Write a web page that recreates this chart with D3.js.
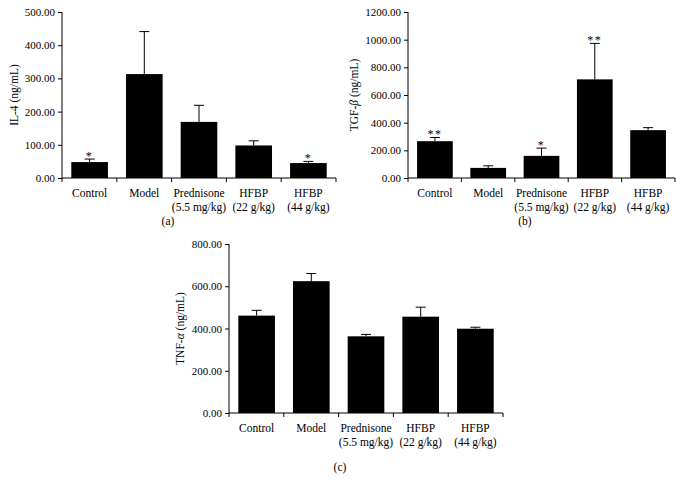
<!DOCTYPE html>
<html>
<head>
<meta charset="utf-8">
<script src="https://cdn.jsdelivr.net/npm/d3@7"></script>
<style>
  body { margin: 0; background: #fff; }
  svg { display: block; }
  text { font-family: "Liberation Serif", "Times New Roman", serif; fill: #000; }
</style>
</head>
<body>
<svg id="chart" width="680" height="482"></svg>
<script>
// groups, same for all three panels
var groups = [
  ['Control'],
  ['Model'],
  ['Prednisone', '(5.5 mg/kg)'],
  ['HFBP', '(22 g/kg)'],
  ['HFBP', '(44 g/kg)']
]

// (a) IL-4
var il4Means = [48, 313, 169, 98, 45]
var il4Errors = [57, 441, 219, 112, 50]
var il4Stars = ['*', '', '', '', '*']
var il4Ticks = [0, 100, 200, 300, 400, 500]

// (b) TGF-beta
var tgfMeans = [266, 73, 160, 713, 346]
var tgfErrors = [293, 88, 216, 973, 364]
var tgfStars = ['**', '', '*', '**', '']
var tgfTicks = [0, 200, 400, 600, 800, 1000, 1200]

// (c) TNF-alpha
var tnfMeans = [461, 624, 363, 456, 399]
var tnfErrors = [486, 660, 372, 501, 406]
var tnfStars = ['', '', '', '', '']
var tnfTicks = [0, 200, 400, 600, 800]

var svg = d3.select('#chart')

drawPanel({left: 62, right: 336, top: 12, bottom: 178, means: il4Means, errors: il4Errors,
  stars: il4Stars, ticks: il4Ticks, label: 'IL-4 (ng/mL)', labelX: 14, tag: '(a)', tagX: 168, tagY: 225})

drawPanel({left: 408, right: 675, top: 12, bottom: 178, means: tgfMeans, errors: tgfErrors,
  stars: tgfStars, ticks: tgfTicks, label: ['TGF-', 'β', ' (ng/mL)'], labelX: 354, tag: '(b)', tagX: 525, tagY: 225})

drawPanel({left: 229, right: 503, top: 244, bottom: 413, means: tnfMeans, errors: tnfErrors,
  stars: tnfStars, ticks: tnfTicks, label: ['TNF-', 'α', ' (ng/mL)'], labelX: 180, tag: '(c)', tagX: 340, tagY: 471})

function drawPanel(p) {
  var x = d3.scaleBand()
      .domain(d3.range(groups.length))
      .range([p.left, p.right])
      .paddingInner(0.33)
      .paddingOuter(0.17)

  var y = d3.scaleLinear()
      .domain([0, d3.max(p.ticks)])
      .range([p.bottom, p.top])

  var g = svg.append('g')

  // bars
  g.selectAll('rect.bar')
      .data(p.means)
    .enter().append('rect')
      .attr('class', 'bar')
      .attr('x', function(d, i) { return x(i) })
      .attr('width', x.bandwidth())
      .attr('y', function(d) { return y(d) })
      .attr('height', function(d) { return y(0) - y(d) })
      .attr('fill', '#000')

  // error bars, upper only
  var err = g.selectAll('g.err')
      .data(p.errors)
    .enter().append('g')
      .attr('class', 'err')
      .attr('stroke', '#000')
      .attr('stroke-width', 1)

  err.append('line')
      .attr('x1', function(d, i) { return x(i) + x.bandwidth() / 2 })
      .attr('x2', function(d, i) { return x(i) + x.bandwidth() / 2 })
      .attr('y1', function(d, i) { return y(p.means[i]) })
      .attr('y2', function(d) { return y(d) })

  err.append('line')
      .attr('x1', function(d, i) { return x(i) + x.bandwidth() / 2 - 5 })
      .attr('x2', function(d, i) { return x(i) + x.bandwidth() / 2 + 5 })
      .attr('y1', function(d) { return y(d) })
      .attr('y2', function(d) { return y(d) })

  // significance stars
  g.selectAll('text.star')
      .data(p.stars)
    .enter().append('text')
      .attr('class', 'star')
      .attr('x', function(d, i) { return x(i) + x.bandwidth() / 2 })
      .attr('y', function(d, i) { return y(p.errors[i]) + 0.5 })
      .attr('text-anchor', 'middle')
      .style('font-size', '12px')
      .style('letter-spacing', '1.5px')
      .text(function(d) { return d })

  // y axis
  var yAxis = d3.axisLeft(y)
      .tickValues(p.ticks)
      .tickSize(4)
      .tickFormat(d3.format('.2f'))

  var ya = g.append('g')
      .attr('transform', 'translate(' + p.left + ',0)')
      .call(yAxis)
  ya.select('.domain').attr('d', 'M0,' + p.top + 'V' + p.bottom)
  ya.selectAll('text').style('font-size', '11px').attr('x', -7)

  // x axis: ticks at group boundaries
  var bounds = d3.range(groups.length + 1).map(function(i) {
    return p.left + i * (p.right - p.left) / groups.length
  })

  g.append('line')
      .attr('x1', p.left).attr('x2', p.right)
      .attr('y1', p.bottom).attr('y2', p.bottom)
      .attr('stroke', '#000')

  g.selectAll('line.xt')
      .data(bounds)
    .enter().append('line')
      .attr('class', 'xt')
      .attr('x1', function(d) { return d }).attr('x2', function(d) { return d })
      .attr('y1', p.bottom).attr('y2', p.bottom + 4)
      .attr('stroke', '#000')

  var cat = g.selectAll('text.cat')
      .data(groups)
    .enter().append('text')
      .attr('class', 'cat')
      .attr('text-anchor', 'middle')
      .attr('y', p.bottom + 19)
      .style('font-size', '11.5px')

  cat.selectAll('tspan')
      .data(function(d, i) { return d.map(function(t) { return {t: t, i: i} }) })
    .enter().append('tspan')
      .attr('x', function(d) { return x(d.i) + x.bandwidth() / 2 })
      .attr('dy', function(d, j) { return j ? 14 : 0 })
      .text(function(d) { return d.t })

  // y label
  var cy = (p.top + p.bottom) / 2
  var lab = g.append('text')
      .attr('transform', 'translate(' + p.labelX + ',' + cy + ') rotate(-90)')
      .attr('text-anchor', 'middle')
      .attr('dy', '0.35em')
      .style('font-size', '11.5px')

  var parts = typeof p.label === 'string' ? [p.label] : p.label
  lab.selectAll('tspan')
      .data(parts)
    .enter().append('tspan')
      .style('font-style', function(d, i) { return i === 1 ? 'italic' : 'normal' })
      .text(function(d) { return d })

  // panel tag
  g.append('text')
      .attr('x', p.tagX)
      .attr('y', p.tagY)
      .attr('text-anchor', 'middle')
      .style('font-size', '11.5px')
      .text(p.tag)
}
</script>
</body>
</html>
